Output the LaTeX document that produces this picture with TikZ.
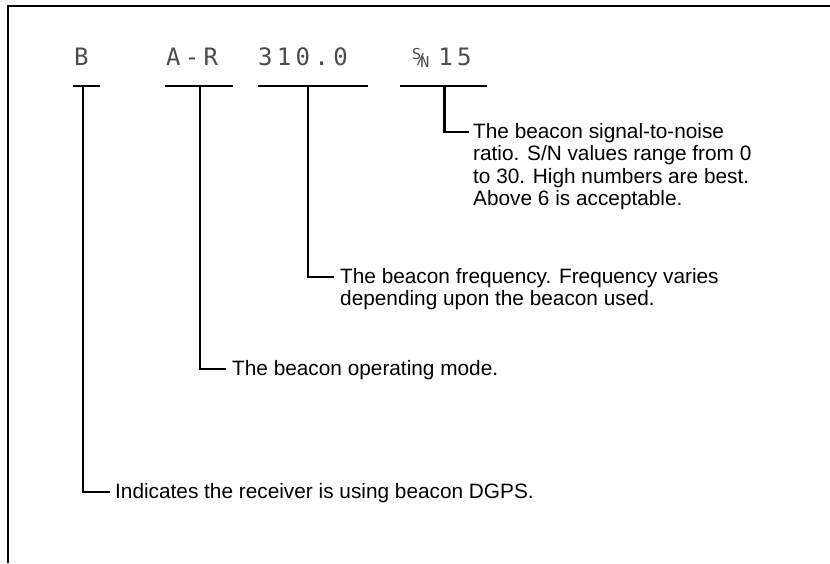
\documentclass[tikz,border=0pt]{standalone}
\usepackage{fontspec}
\setmainfont{Liberation Sans}
\newfontfamily\lcdfont{DejaVu Sans Mono}[LetterSpace=18]
\usetikzlibrary{positioning}
\definecolor{lcdgray}{RGB}{75,75,75}
\newcommand{\snglyph}{{\fontsize{15}{15}\selectfont\raisebox{6pt}{S}\kern-5pt\raisebox{1pt}{/}\kern-5pt\raisebox{-2pt}{N}}}
\tikzset{
  lcd/.style={font=\lcdfont\fontsize{24}{24}\selectfont,text=lcdgray,
              inner sep=0pt,anchor=base west},
  seg/.style={fill=black,inner sep=0pt,minimum height=2.6pt,minimum width=#1},
  lbl/.style={font=\fontsize{20.8}{22.5}\selectfont,align=left,
              inner sep=0pt,anchor=base west},
  lead/.style={line width=2.6pt},
  frame/.style={line width=2.2pt},
}
\begin{document}
\begin{tikzpicture}[x=1pt,y=1pt]
  \useasboundingbox (0,0) rectangle (830,-563);
  \draw[frame] (8,-563) -- (8,-6) -- (830,-6);
  % display line
  \node[lcd] (fsrc)  at (74,-65)  {B};
  \node[lcd] (fmode) at (166,-65) {A-R};
  \node[lcd] (ffreq) at (258,-65) {310.0};
  \node[lcd] (fsnr)  at (412,-65) {\snglyph\hspace{9pt}15};
  % bars under the fields
  \node[seg=27pt]  (bsrc)  at (86.5,-86) {};
  \node[seg=68pt]  (bmode) at (199,-86)  {};
  \node[seg=110pt] (bfreq) at (313,-86)  {};
  \node[seg=87pt]  (bsnr)  at (443.5,-86) {};
  % explanations (base = last line)
  \node[lbl] (lsnr)  at (473,-205.5) {The beacon signal-to-noise\\ratio. S/N values range from 0\\to 30. High numbers are best.\\Above 6 is acceptable.};
  \node[lbl] (lfreq) at (340,-305.5) {The beacon frequency. Frequency varies\\depending upon the beacon used.};
  \node[lbl] (lmode) at (232,-375) {The beacon operating mode.};
  \node[lbl] (lsrc)  at (115,-498) {Indicates the receiver is using beacon DGPS.};
  % leaders
  \draw[lead] ([xshift=-3.5pt]bsrc.center) |- ([xshift=-5pt,yshift=6pt]lsrc.base west);
  \draw[lead] ([xshift=1pt]bmode.center) |- ([xshift=-6pt,yshift=6pt]lmode.base west);
  \draw[lead] ([xshift=-5pt]bfreq.center) |- ([xshift=-6pt,yshift=28.5pt]lfreq.base west);
  \draw[lead] ([xshift=1pt]bsnr.center) |- ([xshift=-4pt,yshift=73.5pt]lsnr.base west);
\end{tikzpicture}
\end{document}
